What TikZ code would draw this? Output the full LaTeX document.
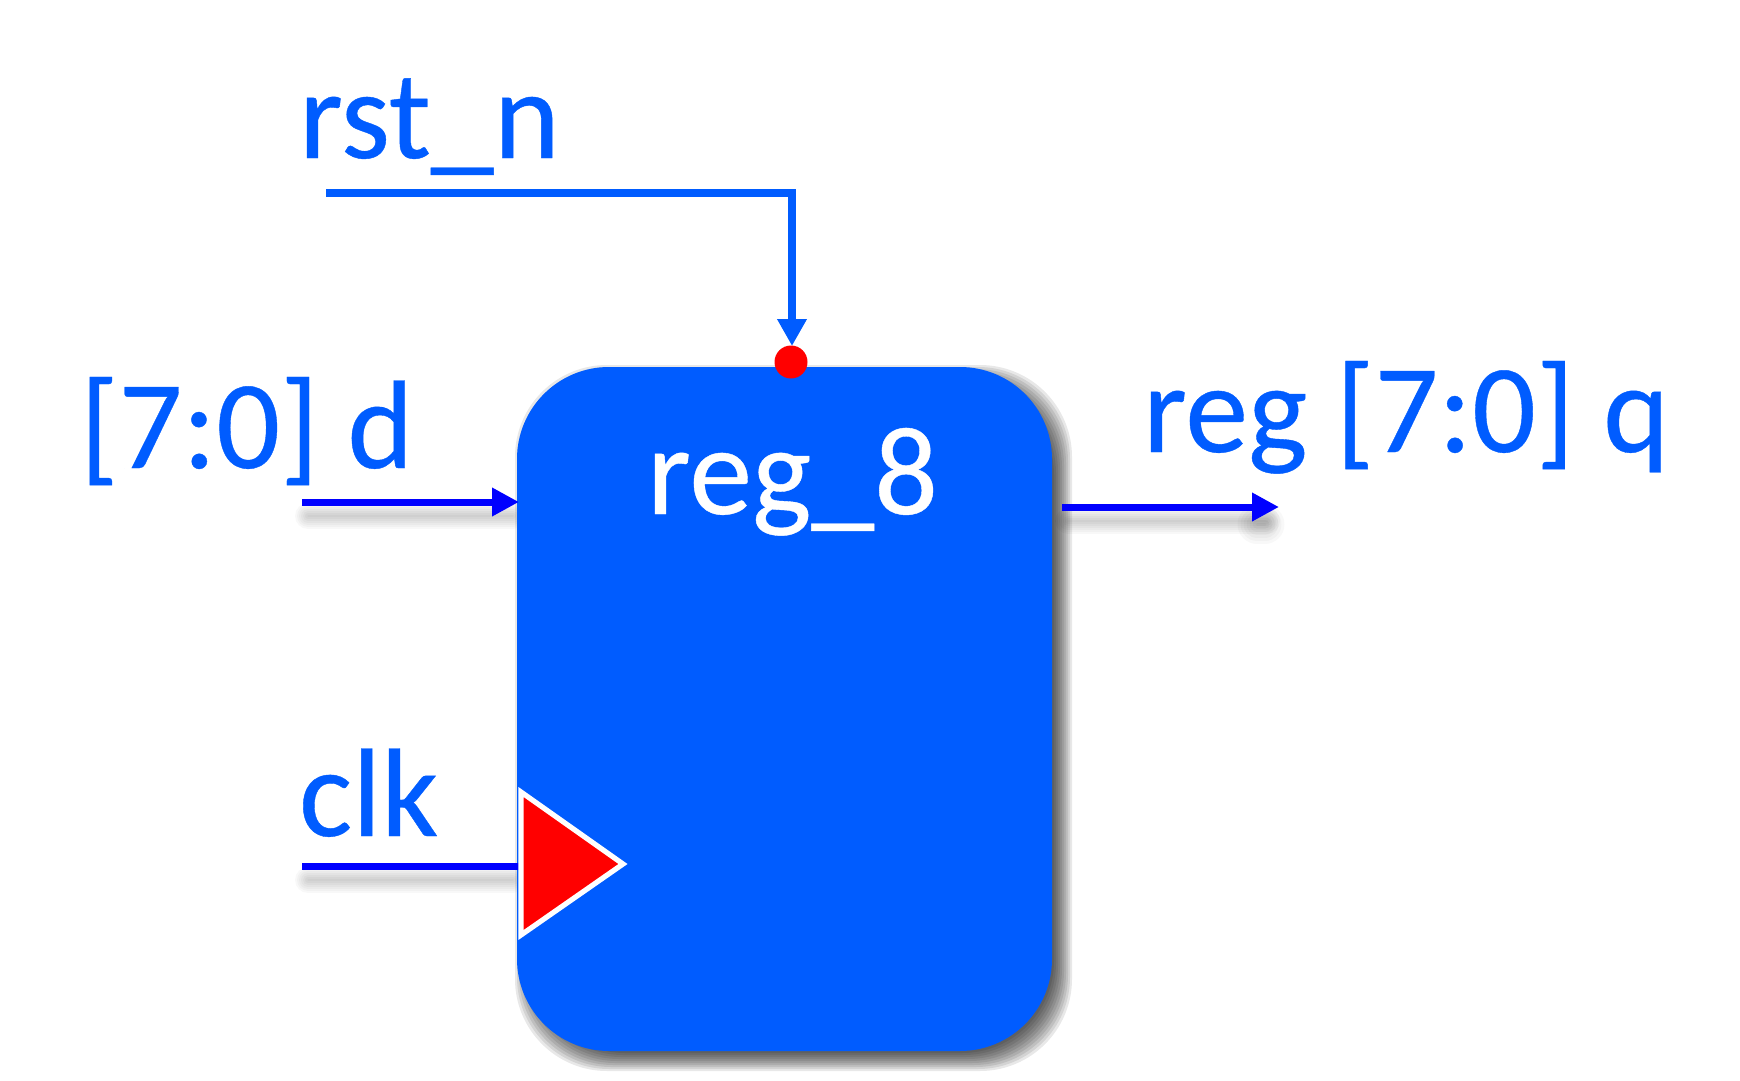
\documentclass[tikz,border=0pt]{standalone}
\usepackage{fontspec}
\setmainfont{Carlito}
\newfontfamily\labelfont[FakeBold=0.3]{Carlito}
\usetikzlibrary{arrows.meta,shapes.geometric}
\definecolor{regblue}{HTML}{005CFF}
\definecolor{purewire}{HTML}{0000FF}
\tikzset{
  px/.style={x=0.5pt,y=-0.5pt},
  label/.style={anchor=base west,inner sep=0pt,outer sep=0pt,text=regblue,font=\labelfont\fontsize{63}{70}\selectfont},
  blockbox/.style={draw=none,fill=regblue,rounded corners=46pt,minimum width=267.5pt,minimum height=342pt,inner sep=0pt},
  sigwire/.style={draw=purewire,line width=3.5pt},
  rstwire/.style={draw=regblue,line width=3.8pt},
  bluetip/.style={-{Triangle[length=13.5pt,width=13.5pt,color=purewire]}},
  rsttip/.style={-{Triangle[length=13.5pt,width=14pt,color=regblue]}},
  softline/.style={draw=black,opacity=0.026,line cap=round}
}
\begin{document}
\begin{tikzpicture}[px]
\useasboundingbox (0,0) rectangle (1740,1081);
\fill[white] (0,0) rectangle (1740,1081);
% coordinates
\coordinate (rstA) at (326,193);
\coordinate (rstB) at (792,193);
\coordinate (rstC) at (792,346);
\coordinate (dA) at (302,502);
\coordinate (dB) at (519,502);
\coordinate (clkA) at (302,866);
\coordinate (clkB) at (519,866);
\coordinate (qA) at (1062,507);
\coordinate (qB) at (1279,507);
% wire shadows
\foreach \w in {1,3,...,13}{
  \draw[softline,line width=\w pt] ([shift={(6,14)}]dA) -- ([shift={(-6,14)}]dB);
  \draw[softline,line width=\w pt] ([shift={(6,14)}]clkA) -- ([shift={(-6,14)}]clkB);
  \draw[softline,line width=\w pt] ([shift={(6,14)}]qA) -- ([shift={(-12,14)}]qB);
  \draw[softline,line width=1.5*\w pt] ([shift={(-22,17)}]qB) -- ([shift={(-14,17)}]qB);
}
% block shadow
\foreach \e in {11,9,...,-7}{
  \fill[black,opacity=0.09,rounded corners=46pt]
    ({517+9-\e},{367+9-\e}) rectangle ({1052+9+\e},{1051+9+\e});
}
% block
\node[blockbox] (reg) at (784.5,709) {};
% wires
\draw[sigwire,bluetip] (dA) -- (dB);
\draw[sigwire] (clkA) -- (clkB);
\draw[sigwire,bluetip] (qA) -- (qB);
\draw[rstwire,rsttip] (rstA) -- (rstB) -- (rstC);
% reset bubble
\node[ellipse,fill=red,draw=none,minimum width=16.5pt,minimum height=16.5pt,inner sep=0pt] (rstdot) at (791,362) {};
% clock triangle
\fill[red,draw=white,line width=2.6pt,line join=miter] (521,792) -- (623,864) -- (521,935) -- cycle;
% labels
\node[label] (lrst) at (299,158) {rst\_n};
\node[label] (ld) at (80,468) {[7:0] d};
\node[label] (lclk) at (299,836) {clk};
\node[label] (lq) at (1143,452) {reg [7:0] q};
\node[label,text=white] (lreg) at (647,514) {reg\_8};
\end{tikzpicture}
\end{document}
